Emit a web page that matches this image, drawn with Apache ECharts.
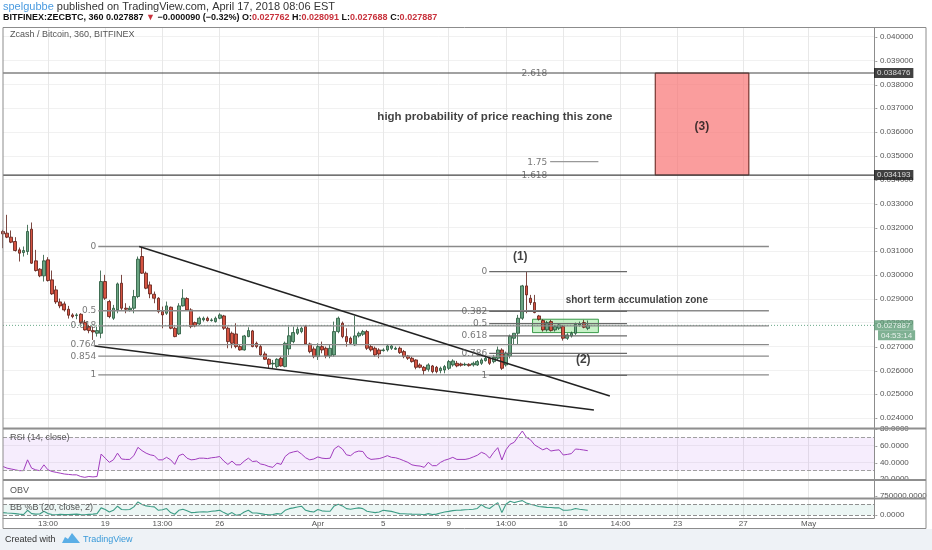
<!DOCTYPE html>
<html><head><meta charset="utf-8">
<script src="https://cdn.jsdelivr.net/npm/echarts@6/dist/echarts.min.js"></script>
<style>html,body{margin:0;padding:0;background:#fff;}#c{width:932px;height:550px;}</style>
</head><body><div id="c"></div>
<script>
// ---------- data ----------
const N = 214; // 6h slots on the time scale (incl. future space)
const tickIdx  = [11, 25, 39, 53, 77, 93, 109, 123, 137, 151, 165, 181, 197];
const tickText = ['13:00','19','13:00','26','Apr','5','9','14:00','16','14:00','23','27','May'];
// [open, high, low, close]
const candles = [
[0.031826,0.031896,0.031126,0.031728],[0.031756,0.032526,0.031546,0.031588],[0.031588,0.031868,0.031336,0.031378],[0.031406,0.031588,0.030986,0.031028],
[0.031056,0.031154,0.030566,0.030916],[0.030944,0.031196,0.030776,0.031028],[0.030986,0.032106,0.030846,0.031826],[0.031924,0.032204,0.030468,0.030496],
[0.030594,0.031056,0.030146,0.030188],[0.030244,0.030286,0.029908,0.029964],[0.029964,0.030846,0.029726,0.030594],[0.030636,0.030748,0.029726,0.029768],
[0.029796,0.030188,0.029166,0.029208],[0.029376,0.029544,0.028788,0.028872],[0.028872,0.029012,0.028606,0.028704],[0.028788,0.028886,0.028466,0.028536],
[0.028564,0.028704,0.028172,0.028312],[0.028326,0.028396,0.028186,0.028256],[0.028298,0.028396,0.028144,0.028326],[0.028354,0.028396,0.027948,0.028004],
[0.028004,0.028116,0.027668,0.027696],[0.027836,0.027906,0.027556,0.027668],[0.027668,0.027836,0.027276,0.027612],[0.027556,0.027836,0.027416,0.027668],
[0.027556,0.030188,0.027346,0.029726],[0.029726,0.030006,0.028956,0.029026],[0.028886,0.028956,0.028186,0.028256],[0.028186,0.028746,0.028116,0.028606],
[0.028536,0.029684,0.028396,0.029628],[0.029656,0.030006,0.028536,0.028606],[0.028606,0.028816,0.028396,0.028564],[0.028536,0.028704,0.028466,0.028606],
[0.028606,0.029376,0.028396,0.029096],[0.029096,0.030776,0.029026,0.030664],[0.030776,0.031196,0.030048,0.030076],[0.030076,0.030146,0.029404,0.029446],
[0.029586,0.029726,0.029026,0.029208],[0.029194,0.029306,0.028816,0.029026],[0.029026,0.029068,0.028396,0.028466],[0.028466,0.028676,0.027766,0.028326],
[0.028396,0.028886,0.028326,0.028704],[0.028648,0.028676,0.027724,0.027766],[0.027766,0.027836,0.027388,0.027416],[0.027528,0.028816,0.027486,0.028704],
[0.028704,0.029404,0.028676,0.029026],[0.029012,0.029068,0.028494,0.028536],[0.028536,0.028606,0.027766,0.027836],[0.028004,0.028046,0.027808,0.027864],
[0.027948,0.028256,0.027906,0.028186],[0.028116,0.028256,0.028046,0.028186],[0.028186,0.028256,0.028046,0.028088],[0.028088,0.028186,0.028046,0.028116],
[0.028046,0.028256,0.028004,0.028186],[0.028186,0.028396,0.028144,0.028326],[0.028284,0.028326,0.027696,0.027766],[0.027766,0.027836,0.026926,0.027206],
[0.027556,0.027626,0.026926,0.027136],[0.027528,0.027976,0.026926,0.026996],[0.026996,0.027066,0.026828,0.026856],[0.026856,0.027486,0.026828,0.027444],
[0.027416,0.027808,0.027388,0.027668],[0.027654,0.027696,0.026968,0.026996],[0.027136,0.027206,0.026926,0.026996],[0.026996,0.027066,0.026604,0.026646],
[0.026688,0.026786,0.026436,0.026464],[0.026464,0.026506,0.026086,0.026254],[0.026268,0.026436,0.026086,0.026296],[0.026156,0.026506,0.026086,0.026464],
[0.026506,0.026576,0.026156,0.026184],[0.026156,0.027206,0.026128,0.027136],[0.026900,0.027836,0.026646,0.027450],[0.027206,0.027836,0.027136,0.027584],
[0.027556,0.027836,0.027486,0.027724],[0.027626,0.027836,0.027556,0.027766],[0.027836,0.027906,0.027066,0.027108],[0.027108,0.027164,0.026716,0.026786],
[0.026898,0.026996,0.026506,0.026576],[0.026576,0.027136,0.026436,0.026996],[0.026996,0.027206,0.026716,0.026856],[0.026926,0.026996,0.026506,0.026604],
[0.026604,0.027066,0.026506,0.026926],[0.026646,0.028046,0.026576,0.027626],[0.027626,0.028256,0.027556,0.028186],[0.027976,0.028046,0.027346,0.027416],
[0.027416,0.027766,0.026996,0.027206],[0.027346,0.027416,0.027066,0.027136],[0.027066,0.028284,0.027024,0.027444],[0.027444,0.027626,0.027376,0.027556],
[0.027514,0.027696,0.027444,0.027626],[0.027626,0.027696,0.026856,0.026926],[0.026996,0.027066,0.026786,0.026856],[0.026926,0.026996,0.026576,0.026646],
[0.026856,0.026926,0.026506,0.026688],[0.026828,0.026926,0.026786,0.026856],[0.026856,0.027108,0.026786,0.027024],[0.026926,0.027066,0.026856,0.027024],
[0.026884,0.026996,0.026856,0.026926],[0.026926,0.026996,0.026688,0.026744],[0.026786,0.026856,0.026506,0.026576],[0.026604,0.026646,0.026436,0.026506],
[0.026506,0.026576,0.026324,0.026366],[0.026436,0.026464,0.026044,0.026128],[0.026226,0.026296,0.026086,0.026128],[0.026128,0.026184,0.025806,0.025988],
[0.026044,0.026296,0.025946,0.026226],[0.026184,0.026226,0.025876,0.025946],[0.026128,0.026184,0.025876,0.025946],[0.025988,0.026156,0.025876,0.026086],
[0.026016,0.026226,0.025876,0.026156],[0.026086,0.026436,0.026016,0.026366],[0.026226,0.026464,0.026156,0.026394],[0.026296,0.026394,0.026128,0.026184],
[0.026268,0.026324,0.026156,0.026212],[0.026226,0.026324,0.026184,0.026254],[0.026254,0.026296,0.026156,0.026198],[0.026226,0.026366,0.026156,0.026296],
[0.026226,0.026436,0.026184,0.026366],[0.026296,0.026506,0.026226,0.026436],[0.026408,0.026576,0.026366,0.026506],[0.026506,0.026576,0.026226,0.026296],
[0.026366,0.026646,0.026296,0.026548],[0.026506,0.026996,0.026436,0.026856],[0.026856,0.026926,0.026016,0.026086],[0.026226,0.026786,0.026156,0.026716],
[0.026604,0.027500,0.026500,0.027430],[0.027346,0.027556,0.027066,0.027556],[0.027556,0.028326,0.027066,0.028186],[0.028186,0.029586,0.028116,0.029544],
[0.029544,0.030146,0.028396,0.029166],[0.029026,0.029166,0.028746,0.028844],[0.028844,0.029166,0.028396,0.028424],[0.028284,0.028326,0.028088,0.028144],
[0.028088,0.028144,0.027626,0.027696],[0.027696,0.028074,0.027626,0.028004],[0.028046,0.028116,0.027626,0.027668],[0.027696,0.027906,0.027626,0.027836],
[0.027766,0.027976,0.027696,0.027906],[0.027836,0.027906,0.027248,0.027346],[0.027346,0.027556,0.027276,0.027486],[0.027444,0.027626,0.027376,0.027556],
[0.027556,0.028004,0.027486,0.027934],[0.027906,0.028046,0.027836,0.027948],[0.028004,0.028116,0.027766,0.027808],[0.027762,0.028091,0.027688,0.027887]
];
const rsi = [35,33,32,31,30,30,43,33,31,30, 37,31,29,28,27,26,25.5,25,25,23, 22,23,22.5,23,50,45,40,43,51,44,
 43.5,43.5,48,58,54,51,49,48,43,43, 46,43,37.5,48,50,45,43,43.5,45,45, 44.5,45.5,46,47,41.5,37.5,41.5,37,37,41.5,
 45,41,41.5,38,37,35,34,39,37.5,47, 51,52.5,53.5,50,45.5,43,44,46.5,45,44.5, 45,56,59.5,56,49,48,52,53.5,53,46,
 43.5,44,44.5,46,48,46,45.5,44,42,40, 37,36,35.5,34,40,36,36,40,42.5,44, 46,43.5,43.5,43.5,44.5,46.5,48.5,52,50,45,
 52,57.6,42.8,55,61.6,64,71,77.6,70,67, 61,58,55,57,53.6,54.5,55,48.8,49.5,50.5, 56,55.5,54.8,54];
const bbPct = [0.24,0.2,0.18,0.15,0.1,0.06,0.45,0.15,0.1,0.12, 0.36,0.15,0.06,0.05,0.08,0.06,0.06,0.08,0.1,0.06,
 0.04,0.08,0.1,0.15,0.67,0.52,0.3,0.45,0.82,0.52, 0.5,0.52,0.76,1.21,0.97,0.85,0.8,0.76,0.45,0.5,
 0.61,0.24,0.09,0.45,0.55,0.4,0.24,0.26,0.3,0.32, 0.3,0.36,0.4,0.45,0.24,0.06,0.24,0,0.06,0.3,
 0.45,0.21,0.2,0.15,0.08,0.05,0.06,0.15,0.12,0.45, 0.6,0.67,0.75,0.82,0.45,0.35,0.3,0.52,0.4,0.36,
 0.36,0.85,1.0,0.85,0.6,0.55,0.62,0.67,0.6,0.36, 0.3,0.24,0.3,0.45,0.4,0.35,0.25,0.15,0.14,0.12,
 0.1,0.09,0.09,0.05,0.15,0.06,0.1,0.2,0.3,0.35, 0.42,0.45,0.47,0.5,0.52,0.55,0.62,0.97,0.7,0.61,
 0.9,1.15,0.24,1.0,1.27,1.15,1.25,1.33,1.12,1.0, 0.91,0.8,0.76,0.72,0.7,0.67,0.67,0.45,0.45,0.5,
 0.61,0.55,0.5,0.45];
const lastPrice = 0.027887;
const countdown = '04:53:14';
// drawings (x in candle slots, y in price)
const fib1Levels = ['0','0.5','0.618','0.764','0.854','1'];
const fib1Prices = [0.031196,0.028500,0.027865,0.027078,0.026593,0.025806];
const fib1Span = [23.3, 187.3];
const fib2Levels = ['0','0.382','0.5','0.618','0.786','1'];
const fib2Prices = [0.030146,0.028477,0.027962,0.027447,0.026713,0.025790];
const fib2Span = [118.9, 152.6];
const extLevels = ['2.618','1.75','1.618'];
const extPrices = [0.038476,0.034758,0.034193];
const extSpans = [[0,213],[133.8,145.6],[0,213]];
const extLabelX = 133.6;
const trendUpper = [[33.3,0.031195],[148.4,0.024924]];
const trendLower = [[22.5,0.027024],[144.5,0.024336]];
const targetZone = [[159.5,0.038476],[182.4,0.034193]];
const accumZone = [[129.5,0.028145],[145.6,0.027583]];
const notes = [
  ['high probability of price reaching this zone', 120.3, 0.036642, 11.5],
  ['short term accumulation zone', 155.0, 0.028956, 10],
  ['(1)', 126.5, 0.030762, 12],
  ['(2)', 141.9, 0.026436, 12],
  ['(3)', 170.9, 0.036222, 12]
];
const axisPriceLabels = [0.038476, 0.034193];

// ---------- chart ----------
const FF = '"Liberation Sans", Arial, sans-serif';
const cats = Array.from({length: N}, (_, i) => { const k = tickIdx.indexOf(i); return k >= 0 ? tickText[k] : ''; });
const showTick = (idx, val) => val !== '';
const chart = echarts.init(document.getElementById('c'), null, {renderer: 'canvas'});

function lineSeg(pts, color, width, type) {
  return {type: 'line', xAxisIndex: 1, yAxisIndex: 0, data: pts, symbol: 'none', silent: true, z: 4,
          lineStyle: {color: color, width: width, type: type || 'solid'}, animation: false};
}
const drawSeries = [];
drawSeries.push(lineSeg([[0, lastPrice], [N - 1, lastPrice]], '#6aa888', 1, [1, 2]));
fib1Prices.forEach(p => drawSeries.push(lineSeg([[fib1Span[0], p], [fib1Span[1], p]], '#8a8a8a', 1.3)));
fib2Prices.forEach(p => drawSeries.push(lineSeg([[fib2Span[0], p], [fib2Span[1], p]], '#6a6a6a', 1.3)));
extPrices.forEach((p, k) => drawSeries.push(lineSeg([[extSpans[k][0], p], [extSpans[k][1], p]], k === 1 ? '#999' : '#444', 1.2)));
drawSeries.push(lineSeg(trendLower, '#222', 1.4));
const upper = lineSeg(trendUpper, '#222', 1.4);
upper.markArea = {silent: true, data: [
  [{coord: targetZone[0], itemStyle: {color: 'rgba(247,110,110,0.68)', borderColor: '#5b1a13', borderWidth: 1}}, {coord: targetZone[1]}],
  [{coord: accumZone[0], itemStyle: {color: 'rgba(130,225,130,0.45)', borderColor: '#3a9a4a', borderWidth: 1}}, {coord: accumZone[1]}]
]};
drawSeries.push(upper);

const small = {color: '#555', fontSize: 9, fontFamily: '"DejaVu Sans", sans-serif'};
const labelItems = [];
fib1Levels.forEach((t, k) => labelItems.push({name: t, value: [fib1Span[0], fib1Prices[k]], label: Object.assign({show: true, formatter: '{b}', position: 'left', distance: 2}, small)}));
fib2Levels.forEach((t, k) => labelItems.push({name: t, value: [fib2Span[0], fib2Prices[k]], label: Object.assign({show: true, formatter: '{b}', position: 'left', distance: 2}, small)}));
extLevels.forEach((t, k) => labelItems.push({name: t, value: [extLabelX, extPrices[k]], label: Object.assign({show: true, formatter: '{b}', position: 'left', distance: 2, offset: [0, 1]}, small)}));
notes.forEach(n => labelItems.push({name: n[0], value: [n[1], n[2]], label: {show: true, formatter: '{b}', position: 'inside', color: '#111', fontWeight: 'bold', fontSize: n[3], fontFamily: FF}}));
axisPriceLabels.forEach(p => labelItems.push({name: p.toFixed(6), value: [N - 1, p], label: {show: true, formatter: '{b}', position: 'right', distance: 0, backgroundColor: '#111', color: '#fff', padding: [1, 3, 1, 3], fontSize: 8, fontFamily: FF}}));
labelItems.push({name: lastPrice.toFixed(6), value: [N - 1, lastPrice], label: {show: true, formatter: '{b}', position: 'right', distance: 0, backgroundColor: '#5f9e78', color: '#fff', padding: [1, 3, 1, 3], fontSize: 8, fontFamily: FF}});
labelItems.push({name: countdown, value: [N - 1, lastPrice], label: {show: true, formatter: '{b}', position: 'right', distance: 4, offset: [0, 10], backgroundColor: '#5f9e78', color: '#fff', padding: [1, 3, 1, 3], fontSize: 8, fontFamily: FF}});

const axLabel = {fontSize: 8, color: '#555', fontFamily: FF, margin: 4};
const axTick = {show: false};
const noZero = {show: false, onZero: false};

const option = {
  animation: false,
  backgroundColor: '#fff',
  grid: [
    {left: 3, width: 871, top: 36.7, height: 381.3},
    {left: 3, width: 871, top: 429, height: 50},
    {left: 3, width: 871, top: 480, height: 18.75},
    {left: 3, width: 871, top: 498.75, height: 19.25},
    {left: 3, width: 871, top: 28, height: 490}
  ],
  xAxis: [
    {type: 'category', gridIndex: 0, data: cats, boundaryGap: false, show: false},
    {type: 'value', gridIndex: 0, min: 0, max: N - 1, show: false},
    {type: 'category', gridIndex: 1, data: cats, boundaryGap: false, show: false},
    {type: 'category', gridIndex: 2, data: cats, boundaryGap: false, show: false},
    {type: 'category', gridIndex: 3, data: cats, boundaryGap: false,
     axisLine: {show: true, onZero: false, lineStyle: {color: '#8c8c8c'}}, axisTick: {show: false}, splitLine: {show: false},
     axisLabel: {interval: showTick, margin: 2, fontSize: 8, color: '#555', fontFamily: FF}},
    {type: 'category', gridIndex: 4, data: cats, boundaryGap: false,
     axisLine: {show: false}, axisTick: {show: false, interval: showTick}, axisLabel: {show: false, interval: showTick},
     splitLine: {show: true, interval: showTick, lineStyle: {color: '#e8e8e8'}}}
  ],
  yAxis: [
    {type: 'value', gridIndex: 0, position: 'right', min: 0.024, max: 0.040, interval: 0.001,
     axisLine: noZero, axisTick: axTick, axisLabel: Object.assign({formatter: v => '- ' + v.toFixed(6)}, axLabel, {margin: 1}),
     splitLine: {show: true, lineStyle: {color: '#f1f1f1'}}},
    {type: 'value', gridIndex: 1, position: 'right', min: 20, max: 80, interval: 20,
     axisLine: noZero, axisTick: axTick, axisLabel: Object.assign({formatter: v => '- ' + v.toFixed(4)}, axLabel, {margin: 1}),
     splitLine: {show: true, lineStyle: {color: '#f1f1f1'}}},
    {type: 'value', gridIndex: 2, position: 'right', min: 500000, max: 2200000, interval: 250000,
     axisLine: noZero, axisTick: {show: false}, splitLine: {show: false},
     axisLabel: Object.assign({formatter: v => (v === 750000 ? '- 750000.0000' : '')}, axLabel, {margin: 1})},
    {type: 'value', gridIndex: 3, position: 'right', min: -0.25, max: 1.5, interval: 0.25,
     axisLine: noZero, axisTick: {show: false}, splitLine: {show: false},
     axisLabel: Object.assign({formatter: v => (Math.abs(v) < 1e-9 ? '- 0.0000' : '')}, axLabel, {margin: 1})},
    {type: 'value', gridIndex: 4, position: 'right', axisLine: {show: true, onZero: false, lineStyle: {color: '#8c8c8c'}},
     axisTick: {show: false}, axisLabel: {show: false}, splitLine: {show: false}}
  ],
  series: [
    {type: 'candlestick', xAxisIndex: 0, yAxisIndex: 0, barWidth: 3.2, z: 3,
     data: candles.map(c => [c[0], c[3], c[2], c[1]]),
     itemStyle: {color: '#6ba583', color0: '#d75442', borderColor: '#225437', borderColor0: '#5b1a13', borderWidth: 0.8}},
    ...drawSeries,
    {type: 'scatter', xAxisIndex: 1, yAxisIndex: 0, symbolSize: 0, clip: false, silent: true, z: 10,
     itemStyle: {color: 'transparent'}, data: labelItems},
    {type: 'line', xAxisIndex: 2, yAxisIndex: 1, data: rsi, symbol: 'none', lineStyle: {color: '#a03cbd', width: 1}, silent: true,
     markArea: {silent: true, itemStyle: {color: 'rgba(160,60,230,0.09)'}, data: [[{yAxis: 70}, {yAxis: 30}]]},
     markLine: {silent: true, symbol: ['none', 'none'], label: {show: false}, lineStyle: {type: 'dashed', color: '#a0a0a0', width: 1},
                data: [{yAxis: 70}, {yAxis: 30}]}},
    {type: 'line', xAxisIndex: 4, yAxisIndex: 3, data: bbPct, symbol: 'none', lineStyle: {color: '#3e9d86', width: 1.1}, silent: true,
     markArea: {silent: true, itemStyle: {color: 'rgba(40,160,130,0.09)'}, data: [[{yAxis: 1}, {yAxis: 0}]]},
     markLine: {silent: true, symbol: ['none', 'none'], label: {show: false}, lineStyle: {type: 'dashed', color: '#909090', width: 1},
                data: [{yAxis: 1}, {yAxis: 0}]}}
  ],
  graphic: [
    {type: 'rect', shape: {x: 0, y: 529, width: 932, height: 21}, style: {fill: '#eef2f6'}, silent: true},
    {type: 'rect', shape: {x: 3, y: 27.5, width: 923, height: 501}, style: {fill: 'none', stroke: '#8c8c8c', lineWidth: 1}, silent: true, z: 50},
    {type: 'line', shape: {x1: 3, y1: 428.5, x2: 926, y2: 428.5}, style: {stroke: '#8f8f8f', lineWidth: 2}, silent: true, z: 50},
    {type: 'line', shape: {x1: 3, y1: 480, x2: 926, y2: 480}, style: {stroke: '#8f8f8f', lineWidth: 2}, silent: true, z: 50},
    {type: 'line', shape: {x1: 3, y1: 498.5, x2: 926, y2: 498.5}, style: {stroke: '#8f8f8f', lineWidth: 2}, silent: true, z: 50},
    {type: 'text', silent: true, z: 60, style: {x: 3, y: 7, verticalAlign: 'middle', font: '11px ' + FF, fill: '#333',
      text: '{u|spelgubbe} published on TradingView.com, April 17, 2018 08:06 EST',
      rich: {u: {fill: '#4a9be0', color: '#4a9be0', font: '11px ' + FF}}}},
    {type: 'text', silent: true, z: 60, style: {x: 3, y: 17.5, verticalAlign: 'middle', font: 'bold 9px ' + FF, fill: '#111',
      text: 'BITFINEX:ZECBTC, 360 0.027887 {r|▼} −0.000090 (−0.32%) O:{r|0.027762} H:{r|0.028091} L:{r|0.027688} C:{r|0.027887}',
      rich: {r: {fill: '#c8323c', color: '#c8323c', font: 'bold 9px ' + FF}}}},
    {type: 'text', silent: true, z: 60, style: {x: 10, y: 35, verticalAlign: 'middle', font: '9px ' + FF, fill: '#555', text: 'Zcash / Bitcoin, 360, BITFINEX'}},
    {type: 'text', silent: true, z: 60, style: {x: 10, y: 438, verticalAlign: 'middle', font: '9px ' + FF, fill: '#555', text: 'RSI (14, close)'}},
    {type: 'text', silent: true, z: 60, style: {x: 10, y: 490.5, verticalAlign: 'middle', font: '9px ' + FF, fill: '#555', text: 'OBV'}},
    {type: 'text', silent: true, z: 60, style: {x: 10, y: 508, verticalAlign: 'middle', font: '9px ' + FF, fill: '#555', text: 'BB %B (20, close, 2)'}},
    {type: 'text', silent: true, z: 60, style: {x: 5, y: 539.5, verticalAlign: 'middle', font: '9px ' + FF, fill: '#333', text: 'Created with'}},
    {type: 'polygon', silent: true, z: 60, shape: {points: [[62, 543], [65, 537], [68, 539], [72, 533], [76, 538], [80, 543]]}, style: {fill: '#5aaee6'}},
    {type: 'text', silent: true, z: 60, style: {x: 83, y: 539.5, verticalAlign: 'middle', font: '9px ' + FF, fill: '#3a9ad9', text: 'TradingView'}}
  ]
};
chart.setOption(option);
</script>
</body></html>
